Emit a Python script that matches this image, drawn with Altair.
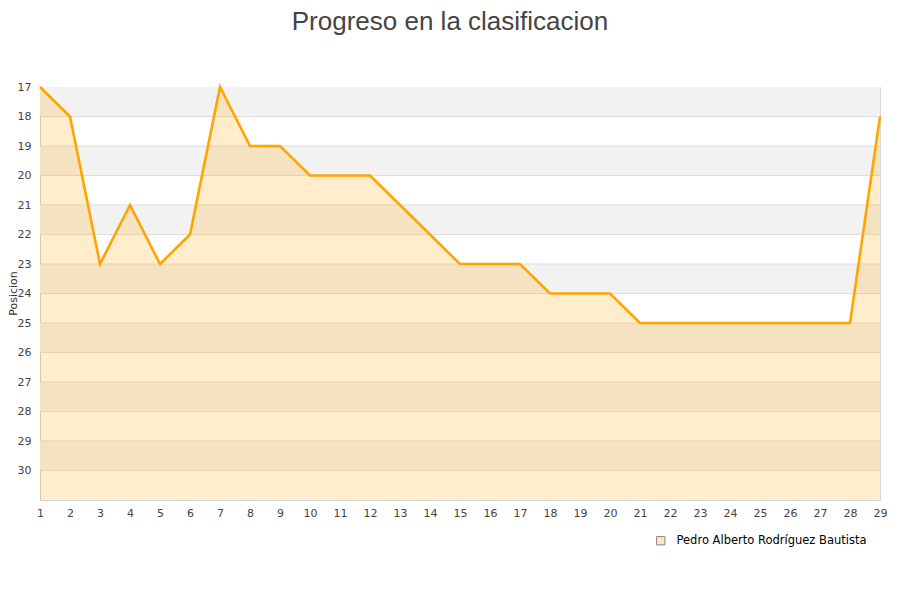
import altair as alt
import pandas as pd

jornadas = list(range(1, 30))
posiciones = [17, 18, 23, 21, 23, 22, 17, 19, 19, 20, 20, 20, 21, 22, 23, 23, 23,
              24, 24, 24, 25, 25, 25, 25, 25, 25, 25, 25, 18]
jugador = "Pedro Alberto Rodríguez Bautista"
ticks_y = list(range(17, 31))
band_starts = [17, 19, 21, 23, 25, 27, 29]
y_min, y_max = 17, 31

df = pd.DataFrame({"jornada": jornadas, "pos": posiciones, "jugador": jugador, "base": y_max})
bands = pd.DataFrame({"y": band_starts, "y2": [b + 1 for b in band_starts]})
grid = pd.DataFrame({"y": ticks_y[1:]})

xs = alt.Scale(domain=[1, 29], nice=False, zero=False)
ys = alt.Scale(domain=[y_min, y_max], reverse=True, nice=False, zero=False)

x_axis = alt.Axis(values=jornadas, title=None, grid=False, ticks=False, labelPadding=7,
                  labelFontSize=11, labelColor="#444", labelFont="DejaVu Sans",
                  domainColor="#d0d0d0", labelFlush=False, labelOverlap=False)
y_axis = alt.Axis(values=ticks_y, title="Posicion", grid=False, ticks=False, labelPadding=9,
                  labelFontSize=11, labelColor="#444", labelFont="DejaVu Sans",
                  labelOverlap=False,
                  titleFont="DejaVu Sans", titleFontSize=11, titleFontWeight="normal",
                  titleColor="#333", titleX=-22, titleY=206, titleAngle=270,
                  titleBaseline="bottom", titleAlign="center", domainColor="#d0d0d0")

band_layer = alt.Chart(bands).mark_rect(color="#f2f2f2").encode(
    x=alt.value(0), x2=alt.value(840),
    y=alt.Y("y:Q", scale=ys, axis=y_axis), y2="y2:Q")

grid_layer = alt.Chart(grid).mark_rule(color="#dddddd", strokeWidth=1).encode(
    x=alt.value(0), x2=alt.value(840), y=alt.Y("y:Q", scale=ys, axis=y_axis))

area_layer = alt.Chart(df).mark_area(color="#ffa500", opacity=0.2, interpolate="linear").encode(
    x=alt.X("jornada:Q", scale=xs, axis=x_axis),
    y=alt.Y("pos:Q", scale=ys, axis=y_axis),
    y2="base:Q")

line_layer = alt.Chart(df).mark_line(color="#ffa500", strokeWidth=2.6).encode(
    x=alt.X("jornada:Q", scale=xs, axis=x_axis),
    y=alt.Y("pos:Q", scale=ys, axis=y_axis))

legend_layer = alt.Chart(df.head(1)).mark_square(opacity=0, size=1).encode(
    x=alt.X("jornada:Q", scale=xs, axis=x_axis),
    y=alt.Y("pos:Q", scale=ys, axis=y_axis),
    fill=alt.Fill("jugador:N",
                  scale=alt.Scale(range=["#ffe8c0"]),
                  legend=alt.Legend(title=None, orient="none", legendX=615, legendY=448,
                                    symbolType="square", symbolSize=70,
                                    symbolStrokeColor="#888", symbolStrokeWidth=1,
                                    symbolOpacity=1, labelOffset=10,
                                    labelFont="DejaVu Sans", labelFontSize=11.5,
                                    labelColor="#000", labelLimit=400)))

chart = alt.layer(band_layer, grid_layer, area_layer, line_layer, legend_layer).properties(
    width=840, height=413,
    title=alt.TitleParams("Progreso en la clasificacion", font="Liberation Sans", fontSize=26,
                          fontWeight="normal", color="#444", anchor="middle", dx=-10, offset=46),
    autosize=alt.AutoSizeParams(type="none"),
    padding={"left": 32, "top": 79, "right": 12, "bottom": 90},
).configure_view(stroke="#d8d8d8", strokeWidth=1).configure_axis(labelOverlap=False)

chart.save("out.html", embed_options={"renderer": "svg", "actions": False})
